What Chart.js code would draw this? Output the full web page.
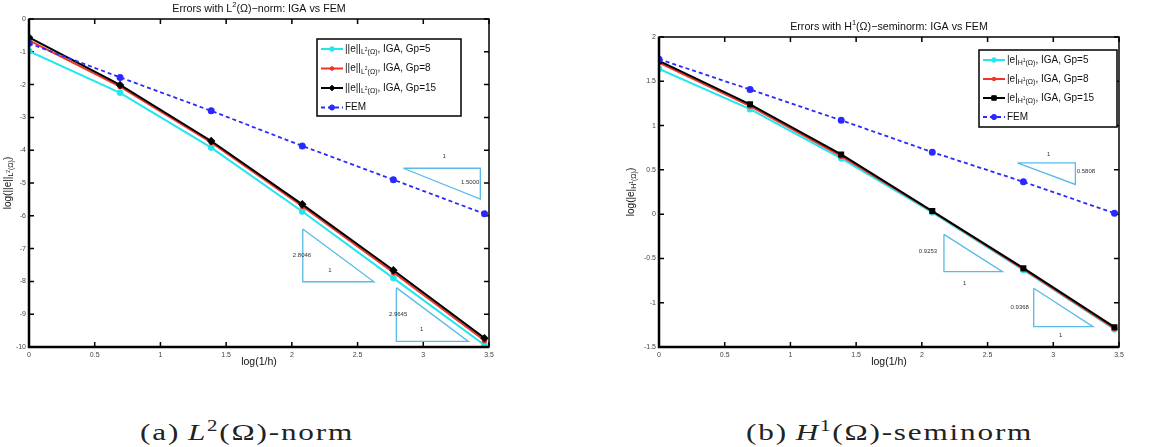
<!DOCTYPE html>
<html>
<head>
<meta charset="utf-8">
<script src="https://cdn.jsdelivr.net/npm/chart.js@4.4.0/dist/chart.umd.min.js"></script>
<style>
  body { margin: 0; background: #fff; width: 1153px; height: 447px; overflow: hidden; position: relative; }
  #c1 { position: absolute; left: 0; top: 0; }
  #c2 { position: absolute; left: 600px; top: 0; }
  .cap { position: absolute; top: 418px; font-family: 'Liberation Serif', 'DejaVu Serif', serif; font-size: 24px; color: #222; white-space: nowrap; line-height: 28px; letter-spacing: 1.4px; transform: scaleX(1.3); transform-origin: 0 50%; }
  .cap sup { font-size: 16px; vertical-align: 9px; line-height: 0; }
  .cap .sp { display: inline-block; width: 6px; }
</style>
</head>
<body>
<canvas id="c1" width="540" height="370"></canvas>
<canvas id="c2" width="553" height="370"></canvas>
<div class="cap" style="left:140px">(a)<span class="sp"></span><i>L</i><sup>2</sup>(Ω)-norm</div>
<div class="cap" style="left:746px">(b)<span class="sp"></span><i>H</i><sup>1</sup>(Ω)-seminorm</div>
<script>
// log(1/h) for h = 1, 1/2, ..., 1/32
const xVals = [0, 0.6931, 1.3863, 2.0794, 2.7726, 3.4657];

// L2 norm errors (log)
const l2Gp5  = [-0.98, -2.25, -3.92, -5.87, -7.90, -9.94];
const l2Gp8  = [-0.65, -2.06, -3.76, -5.71, -7.73, -9.80];
const l2Gp15 = [-0.56, -2.01, -3.72, -5.65, -7.66, -9.73];
const l2Fem  = [-0.74, -1.78, -2.80, -3.87, -4.90, -5.94];

// H1 seminorm errors (log)
const h1Gp5  = [1.64, 1.185, 0.63, 0.02, -0.63, -1.30];
const h1Gp8  = [1.71, 1.22, 0.655, 0.03, -0.62, -1.29];
const h1Gp15 = [1.73, 1.24, 0.674, 0.035, -0.61, -1.276];
const h1Fem  = [1.75, 1.407, 1.06, 0.70, 0.365, 0.01];

const xTicks = [0, 0.5, 1, 1.5, 2, 2.5, 3, 3.5];
const l2Ticks = [0, -1, -2, -3, -4, -5, -6, -7, -8, -9, -10];
const h1Ticks = [2, 1.5, 1, 0.5, 0, -0.5, -1, -1.5];

// slope triangles (data units)
const l2TriA = [[2.848, -4.55], [3.434, -4.55], [3.434, -5.49], [2.848, -4.55]];
const l2TriB = [[2.083, -6.40], [2.083, -8.01], [2.625, -8.01], [2.083, -6.40]];
const l2TriC = [[2.795, -8.19], [2.795, -9.83], [3.343, -9.83], [2.795, -8.19]];
const h1TriA = [[2.727, 0.579], [3.168, 0.579], [3.168, 0.335], [2.727, 0.579]];
const h1TriB = [[2.168, -0.228], [2.168, -0.649], [2.613, -0.649], [2.168, -0.228]];
const h1TriC = [[2.851, -0.837], [2.851, -1.27], [3.302, -1.27], [2.851, -0.837]];

// triangle labels: [x, y, text]
const l2Notes = [[3.158, -4.18, '1'], [3.356, -4.97, '1.5000'], [2.077, -7.2, '2.8046'], [2.29, -7.65, '1'], [2.808, -8.99, '2.9645'], [2.988, -9.45, '1']];
const h1Notes = [[2.965, 0.674, '1'], [3.248, 0.486, '0.5808'], [2.047, -0.419, '0.9253'], [2.326, -0.78, '1'], [2.745, -1.047, '0.9368'], [3.056, -1.366, '1']];

const l2Labels = ['||e||_{L^{2}(Ω)}, IGA, Gp=5', '||e||_{L^{2}(Ω)}, IGA, Gp=8', '||e||_{L^{2}(Ω)}, IGA, Gp=15', 'FEM'];
const h1Labels = ['|e|_{H^{1}(Ω)}, IGA, Gp=5', '|e|_{H^{1}(Ω)}, IGA, Gp=8', '|e|_{H^{1}(Ω)}, IGA, Gp=15', 'FEM'];

const FONT = "'Liberation Sans', Arial, sans-serif";
const CYAN = '#22e6ee', RED = '#f2332a', BLK = '#000', BLUE = '#2a2aff', TRI = '#58bbe8';

const pts = (ys) => ys.map((y, i) => ({ x: xVals[i], y }));
const tri = (arr) => arr.map(p => ({ x: p[0], y: p[1] }));

// text with _{sub} and ^{sup}
function richRuns(str, size, dy, out) {
  let i = 0, buf = '';
  const flush = () => { if (buf) { out.push({ t: buf, size, dy }); buf = ''; } };
  while (i < str.length) {
    const c = str[i];
    if ((c === '_' || c === '^') && str[i + 1] === '{') {
      flush();
      let depth = 1, j = i + 2;
      while (j < str.length && depth) { if (str[j] === '{') depth++; else if (str[j] === '}') depth--; j++; }
      richRuns(str.slice(i + 2, j - 1), size * 0.7, dy + (c === '_' ? size * 0.32 : -size * 0.4), out);
      i = j;
    } else { buf += c; i++; }
  }
  flush();
  return out;
}
function drawRich(ctx, str, x, y, size, align) {
  const runs = richRuns(str, size, 0, []);
  let w = 0;
  runs.forEach(r => { ctx.font = r.size + 'px ' + FONT; r.w = ctx.measureText(r.t).width; w += r.w; });
  let cx = align === 'center' ? x - w / 2 : align === 'right' ? x - w : x;
  ctx.textAlign = 'left';
  ctx.textBaseline = 'middle';
  runs.forEach(r => { ctx.font = r.size + 'px ' + FONT; ctx.fillText(r.t, cx, y + r.dy); cx += r.w; });
}

function drawMarker(ctx, style, x, y, r, color) {
  ctx.fillStyle = color; ctx.strokeStyle = color; ctx.lineWidth = 1;
  ctx.beginPath();
  if (style === 'rectRot') { ctx.moveTo(x, y - r); ctx.lineTo(x + r, y); ctx.lineTo(x, y + r); ctx.lineTo(x - r, y); ctx.closePath(); }
  else if (style === 'rect') { ctx.rect(x - r * 0.8, y - r * 0.8, r * 1.6, r * 1.6); }
  else { ctx.arc(x, y, r, 0, Math.PI * 2); }
  ctx.fill(); ctx.stroke();
}

// MATLAB-like frame, inward ticks, titles, legend, notes
const matlabPlugin = {
  id: 'matlab',
  beforeDatasetsDraw(chart) {
    const { ctx, chartArea: a, scales: { x, y } } = chart;
    ctx.save();
    ctx.strokeStyle = '#000'; ctx.lineWidth = 1.5;
    ctx.beginPath();
    x.ticks.forEach(t => { const p = x.getPixelForValue(t.value); ctx.moveTo(p, a.bottom); ctx.lineTo(p, a.bottom - 5); ctx.moveTo(p, a.top); ctx.lineTo(p, a.top + 5); });
    y.ticks.forEach(t => { const p = y.getPixelForValue(t.value); ctx.moveTo(a.left, p); ctx.lineTo(a.left + 5, p); ctx.moveTo(a.right, p); ctx.lineTo(a.right - 5, p); });
    ctx.stroke();
    ctx.restore();
  },
  afterDatasetsDraw(chart, args, o) {
    const { ctx, chartArea: a, scales: { x, y } } = chart;
    ctx.save();
    ctx.strokeStyle = '#000';
    ctx.lineWidth = 1.5;
    ctx.strokeRect(a.left, a.top, a.right - a.left, a.bottom - a.top);
    ctx.lineWidth = 2.5;
    ctx.beginPath(); ctx.moveTo(a.left, a.top); ctx.lineTo(a.left, a.bottom); ctx.lineTo(a.right, a.bottom); ctx.stroke();

    // notes on triangles
    ctx.fillStyle = '#333';
    o.notes.forEach(n => drawRich(ctx, n[2], x.getPixelForValue(n[0]), y.getPixelForValue(n[1]), 6, 'center'));

    // titles
    ctx.fillStyle = '#111';
    drawRich(ctx, o.title, (a.left + a.right) / 2, a.top - 10, 10.7, 'center');
    drawRich(ctx, o.xlabel, (a.left + a.right) / 2, a.bottom + 15, 10.5, 'center');
    ctx.save();
    ctx.translate(o.ylabelX, (a.top + a.bottom) / 2);
    ctx.rotate(-Math.PI / 2);
    drawRich(ctx, o.ylabel, 0, 0, 10, 'center');
    ctx.restore();

    // legend
    const b = o.box;
    ctx.fillStyle = '#fff';
    ctx.fillRect(b.x, b.y, b.w, b.h);
    ctx.lineWidth = 1.5; ctx.strokeStyle = '#000';
    ctx.strokeRect(b.x, b.y, b.w, b.h);
    chart.data.datasets.slice(0, 4).forEach((ds, i) => {
      const ry = b.y + b.first + i * b.step;
      ctx.save();
      ctx.strokeStyle = ds.borderColor; ctx.lineWidth = ds.borderWidth;
      ctx.setLineDash(ds.borderDash || []);
      ctx.beginPath(); ctx.moveTo(b.x + 4, ry); ctx.lineTo(b.x + 26, ry); ctx.stroke();
      ctx.setLineDash([]);
      drawMarker(ctx, ds.pointStyle, b.x + 15, ry, ds.pointRadius, ds.pointBackgroundColor);
      ctx.restore();
      ctx.fillStyle = '#111';
      drawRich(ctx, ds.label, b.x + 28, ry, 10, 'left');
    });
    ctx.restore();
  }
};

function series(label, ys, color, style, r, width, dash, order) {
  return {
    label, data: pts(ys), borderColor: color, backgroundColor: color, pointBackgroundColor: color,
    pointBorderColor: color, pointStyle: style, pointRadius: r, borderWidth: width,
    borderDash: dash, order, tension: 0, fill: false
  };
}
function triangle(arr) {
  return { label: '', data: tri(arr), borderColor: TRI, borderWidth: 1.3, pointRadius: 0, tension: 0, fill: false, order: 10 };
}

const fmt = v => String(v);

function makeChart(id, cfg) {
  return new Chart(document.getElementById(id), {
    type: 'line',
    data: {
      datasets: [
        series(cfg.labels[0], cfg.data[0], CYAN, 'circle', 2.3, 2, [], 3),
        series(cfg.labels[1], cfg.data[1], RED, 'circle', 1.8, 2, [], 2),
        series(cfg.labels[2], cfg.data[2], BLK, cfg.blackStyle, 2.8, 2, [], 1),
        series(cfg.labels[3], cfg.data[3], BLUE, 'circle', 2.6, 1.8, [4, 3], 0),
        ...cfg.tris.map(triangle)
      ]
    },
    options: {
      responsive: false,
      animation: false,
      layout: { padding: { top: cfg.top, right: cfg.right, left: 0, bottom: 0 } },
      plugins: {
        legend: { display: false },
        tooltip: { enabled: false },
        matlab: { title: cfg.title, xlabel: 'log(1/h)', ylabel: cfg.ylabel, ylabelX: cfg.ylabelX, box: cfg.box, notes: cfg.notes }
      },
      scales: {
        x: {
          type: 'linear', min: 0, max: 3.5,
          afterBuildTicks: s => { s.ticks = xTicks.map(v => ({ value: v })); },
          afterFit: s => { s.height = 23; },
          grid: { display: false, drawTicks: false },
          border: { display: false },
          ticks: { font: { size: 7, family: FONT }, color: '#444', padding: 4, maxRotation: 0, autoSkip: false, callback: fmt }
        },
        y: {
          type: 'linear', min: cfg.ymin, max: cfg.ymax,
          afterBuildTicks: s => { s.ticks = cfg.yTicks.map(v => ({ value: v })); },
          afterFit: s => { s.width = cfg.yWidth; },
          grid: { display: false, drawTicks: false },
          border: { display: false },
          ticks: { font: { size: 7, family: FONT }, color: '#444', padding: 3, autoSkip: false, callback: fmt }
        }
      }
    },
    plugins: [matlabPlugin]
  });
}

makeChart('c1', {
  labels: l2Labels, data: [l2Gp5, l2Gp8, l2Gp15, l2Fem], blackStyle: 'rectRot',
  tris: [l2TriA, l2TriB, l2TriC], notes: l2Notes,
  title: 'Errors with L^{2}(Ω)−norm: IGA vs FEM', ylabel: 'log(||e||_{L^{2}(Ω)})', ylabelX: 8,
  ymin: -10, ymax: 0, yTicks: l2Ticks, yWidth: 29, top: 19, right: 51,
  box: { x: 317, y: 39, w: 144, h: 77, first: 10, step: 19.5 }
});

makeChart('c2', {
  labels: h1Labels, data: [h1Gp5, h1Gp8, h1Gp15, h1Fem], blackStyle: 'rect',
  tris: [h1TriA, h1TriB, h1TriC], notes: h1Notes,
  title: 'Errors with H^{1}(Ω)−seminorm: IGA vs FEM', ylabel: 'log(|e|_{H^{1}(Ω)})', ylabelX: 31,
  ymin: -1.5, ymax: 2, yTicks: h1Ticks, yWidth: 59, top: 37, right: 34,
  box: { x: 379, y: 50, w: 138, h: 77, first: 10, step: 19 }
});
</script>
</body>
</html>
